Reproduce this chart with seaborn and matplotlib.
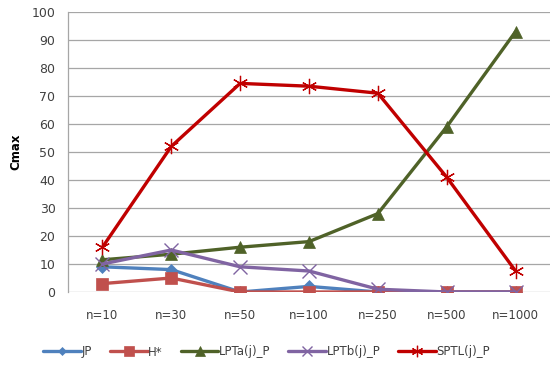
import matplotlib
matplotlib.use("Agg")
import matplotlib.pyplot as plt
import seaborn as sns
import pandas as pd
from matplotlib.lines import Line2D

categories = ["n=10", "n=30", "n=50", "n=100", "n=250", "n=500", "n=1000"]
jp = [9, 8, 0, 2, 0, 0, 0]
h_star = [3, 5, 0, 0, 0, 0, 0]
lpta = [11.5, 13.5, 16, 18, 28, 59, 93]
lptb = [10, 15, 9, 7.5, 1, 0, 0]
sptl = [16, 52, 74.5, 73.5, 71, 41, 7.5]

series_names = ["JP", "H*", "LPTa(j)_P", "LPTb(j)_P", "SPTL(j)_P"]
series_values = [jp, h_star, lpta, lptb, sptl]
colors = ["#4F81BD", "#C0504D", "#4F6228", "#8064A2", "#C00000"]
marker_styles = ["D", "s", "^", "x", (6, 2, 0)]
marker_sizes = [6, 9, 9, 10, 11]
edge_widths = [0.5, 0.5, 0.5, 1.0, 0.9]

rows = []
for name, vals in zip(series_names, series_values):
    for i, (cat, v) in enumerate(zip(categories, vals)):
        rows.append({"pos": i, "n": cat, "value": v, "series": name})
df = pd.DataFrame(rows)

sns.set_theme(style="white")
plt.rcParams["font.family"] = ["DejaVu Sans"]

fig = plt.figure(figsize=(5.5, 3.67), dpi=100)
ax = fig.add_axes([68 / 550, 1 - 292 / 367, 1 - 68 / 550, 280 / 367])

for name, color, mk, ms, ew in zip(series_names, colors, marker_styles, marker_sizes, edge_widths):
    sub = df[df["series"] == name]
    sns.lineplot(data=sub, x="pos", y="value", ax=ax, color=color, lw=2.4,
                 marker=mk, markersize=ms, markeredgewidth=ew,
                 markeredgecolor=color, legend=False, zorder=3)

ax.set_xlim(-0.5, 6.5)
ax.set_ylim(0, 100)
ax.set_yticks(range(0, 101, 10))
ax.set_xticks(range(len(categories)))
ax.set_xticklabels(categories)
ax.yaxis.grid(True, color="#A6A6A6", lw=0.9)
ax.xaxis.grid(False)
for s in ["top", "right", "bottom"]:
    ax.spines[s].set_visible(False)
ax.spines["left"].set_color("#A6A6A6")
ax.spines["left"].set_linewidth(0.9)
ax.tick_params(axis="y", labelsize=9, colors="#404040", length=0, pad=9)
ax.tick_params(axis="x", labelsize=8.5, colors="#404040", length=0, pad=12)
ax.set_xlabel("")
ax.set_ylabel("Cmax", fontsize=8.5, fontweight="bold", color="#000000")
ax.yaxis.set_label_coords(-0.095, 0.5)

handles = [Line2D([0], [0], color=c, lw=2.4, marker=m, markersize=s * 0.75,
                  markeredgecolor=c, markeredgewidth=ew)
           for c, m, s, ew in zip(colors, marker_styles, marker_sizes, edge_widths)]
fig.legend(handles, series_names, loc="center", bbox_to_anchor=(0.485, 1 - 352 / 367),
           ncol=5, frameon=False, fontsize=8.5, handlelength=3.2, handletextpad=0.05,
           columnspacing=1.5, labelcolor="#404040")

fig.savefig("out.png", dpi=100)
